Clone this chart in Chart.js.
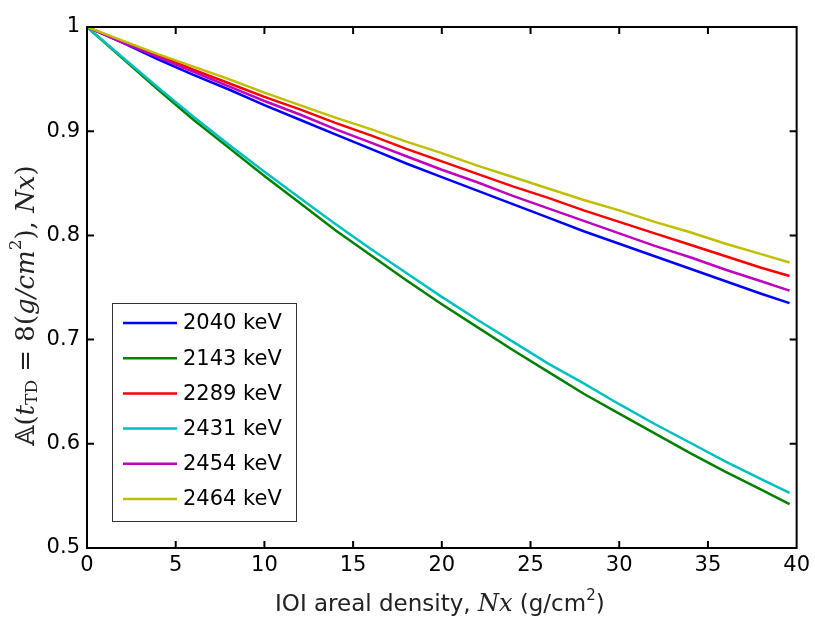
<!DOCTYPE html>
<html>
<head>
<meta charset="utf-8">
<script src="https://cdn.jsdelivr.net/npm/chart.js@4.4.0/dist/chart.umd.min.js"></script>
<style>
  body { margin: 0; background: #fff; }
  canvas { display: block; }
</style>
</head>
<body>
<canvas id="chart" width="815" height="621"></canvas>
<script>
// areal density Nx (g/cm^2)
const density = [0, 2, 4, 6, 8, 10, 12, 14, 16, 18, 20, 22, 24, 26, 28, 30, 32, 34, 36, 38, 39.6];

const e2040 = [1, 0.985, 0.969, 0.954, 0.940, 0.925, 0.911, 0.897, 0.883, 0.869, 0.856, 0.843, 0.830, 0.817, 0.804, 0.792, 0.780, 0.768, 0.756, 0.744, 0.735];
const e2143 = [1, 0.970, 0.940, 0.911, 0.884, 0.857, 0.831, 0.805, 0.781, 0.757, 0.734, 0.712, 0.690, 0.669, 0.648, 0.629, 0.610, 0.591, 0.573, 0.556, 0.542];
const e2289 = [1, 0.986, 0.973, 0.959, 0.946, 0.933, 0.921, 0.908, 0.896, 0.883, 0.871, 0.859, 0.847, 0.836, 0.824, 0.813, 0.802, 0.791, 0.780, 0.769, 0.761];
const e2431 = [1, 0.971, 0.942, 0.914, 0.887, 0.861, 0.836, 0.811, 0.787, 0.764, 0.741, 0.719, 0.698, 0.677, 0.658, 0.638, 0.619, 0.601, 0.583, 0.566, 0.553];
const e2454 = [1, 0.985, 0.971, 0.957, 0.943, 0.929, 0.916, 0.902, 0.889, 0.876, 0.863, 0.851, 0.838, 0.826, 0.814, 0.802, 0.790, 0.779, 0.767, 0.756, 0.747];
const e2464 = [1, 0.987, 0.974, 0.962, 0.950, 0.937, 0.925, 0.913, 0.902, 0.890, 0.879, 0.867, 0.856, 0.845, 0.834, 0.824, 0.813, 0.803, 0.792, 0.782, 0.774];

const labels = ['2040 keV', '2143 keV', '2289 keV', '2431 keV', '2454 keV', '2464 keV'];
const series = [e2040, e2143, e2289, e2431, e2454, e2464];
const colors = ['#0000ff', '#008000', '#ff0000', '#00bfbf', '#bf00bf', '#bfbf00'];

const xTicks = [0, 5, 10, 15, 20, 25, 30, 35, 40];
const yTicks = [0.5, 0.6, 0.7, 0.8, 0.9, 1];

const SANS = '"DejaVu Sans", Verdana, sans-serif';
const SERIF = '"DejaVu Serif", "Liberation Serif", serif';

// draw a run of text pieces with own font / vertical shift
function drawRich(ctx, segs, cx, cy) {
  let total = 0;
  segs.forEach(s => { ctx.font = s.font; s.w = ctx.measureText(s.t).width; total += s.w; });
  let x = cx - total / 2;
  ctx.textBaseline = 'middle';
  ctx.textAlign = 'left';
  segs.forEach(s => {
    ctx.font = s.font;
    ctx.fillText(s.t, x, cy + (s.dy || 0));
    x += s.w;
  });
}

const framePlugin = {
  id: 'frame',
  afterDraw(chart) {
    const ctx = chart.ctx;
    const a = chart.chartArea;
    const xs = chart.scales.x, ys = chart.scales.y;
    ctx.save();
    ctx.strokeStyle = '#000';
    ctx.lineWidth = 2;
    ctx.strokeRect(a.left, a.top, a.right - a.left, a.bottom - a.top);
    ctx.beginPath();
    xTicks.slice(1, -1).forEach(v => {
      const px = xs.getPixelForValue(v);
      ctx.moveTo(px, a.bottom); ctx.lineTo(px, a.bottom - 7);
      ctx.moveTo(px, a.top); ctx.lineTo(px, a.top + 7);
    });
    yTicks.slice(1, -1).forEach(v => {
      const py = ys.getPixelForValue(v);
      ctx.moveTo(a.left, py); ctx.lineTo(a.left + 7, py);
      ctx.moveTo(a.right, py); ctx.lineTo(a.right - 7, py);
    });
    ctx.stroke();

    // legend box
    const lx = 112, ly = 303, lw = 184, lh = 218;
    ctx.fillStyle = '#fff';
    ctx.fillRect(lx, ly, lw, lh);
    ctx.lineWidth = 1;
    ctx.strokeStyle = '#333';
    ctx.strokeRect(lx + 0.5, ly + 0.5, lw, lh);
    labels.forEach((lab, i) => {
      const y = ly + 20 + i * 35.2;
      ctx.strokeStyle = colors[i];
      ctx.lineWidth = 2.5;
      ctx.beginPath();
      ctx.moveTo(lx + 11, y); ctx.lineTo(lx + 65, y);
      ctx.stroke();
      ctx.fillStyle = '#000';
      ctx.font = '21px ' + SANS;
      ctx.textAlign = 'left';
      ctx.textBaseline = 'middle';
      ctx.fillText(lab, lx + 71, y + 1);
    });

    // axis titles
    ctx.fillStyle = '#222';
    const f = '23px ' + SANS;
    const fi = 'italic 24px ' + SERIF;
    const fs = '15px ' + SANS;
    drawRich(ctx, [
      { t: 'IOI areal density, ', font: f },
      { t: 'Nx', font: fi },
      { t: ' (g/cm', font: f },
      { t: '2', font: fs, dy: -9 },
      { t: ')', font: f }
    ], (a.left + a.right) / 2 - 2, 605);

    ctx.translate(27, (a.top + a.bottom) / 2 + 18);
    ctx.rotate(-Math.PI / 2);
    const r = '26px ' + SERIF;
    const ri = 'italic 26px ' + SERIF;
    const sub = '17px ' + SERIF;
    drawRich(ctx, [
      { t: '\u{1D538}(', font: r },
      { t: 't', font: ri },
      { t: 'TD', font: sub, dy: 6 },
      { t: ' = 8(', font: r },
      { t: 'g/cm', font: ri },
      { t: '2', font: sub, dy: -10 },
      { t: '), ', font: r },
      { t: 'Nx', font: ri },
      { t: ')', font: r }
    ], 0, 0);
    ctx.restore();
  }
};

const datasets = series.map((vals, i) => ({
  label: labels[i],
  data: density.map((x, j) => ({ x: x, y: vals[j] })),
  borderColor: colors[i],
  borderWidth: 2.5,
  pointRadius: 0,
  fill: false,
  tension: 0,
  order: series.length - i
}));

new Chart(document.getElementById('chart'), {
  type: 'line',
  data: { datasets },
  options: {
    responsive: false,
    animation: false,
    layout: { padding: { top: 27, right: 16 } },
    plugins: { legend: { display: false }, tooltip: { enabled: false } },
    scales: {
      x: {
        type: 'linear',
        min: 0,
        max: 40,
        grid: { display: false, drawTicks: false },
        border: { display: false },
        afterBuildTicks: s => { s.ticks = xTicks.map(v => ({ value: v })); },
        afterFit: s => { s.height = 73; },
        ticks: {
          padding: 5,
          color: '#000',
          maxRotation: 0,
          font: { family: SANS, size: 21 },
          callback: v => String(v)
        }
      },
      y: {
        type: 'linear',
        min: 0.5,
        max: 1,
        grid: { display: false, drawTicks: false },
        border: { display: false },
        afterBuildTicks: s => { s.ticks = yTicks.map(v => ({ value: v })); },
        afterFit: s => { s.width = 87; },
        ticks: {
          padding: 7,
          color: '#000',
          font: { family: SANS, size: 21 },
          callback: v => String(Math.round(v * 10) / 10)
        }
      }
    }
  },
  plugins: [framePlugin]
});
</script>
</body>
</html>
